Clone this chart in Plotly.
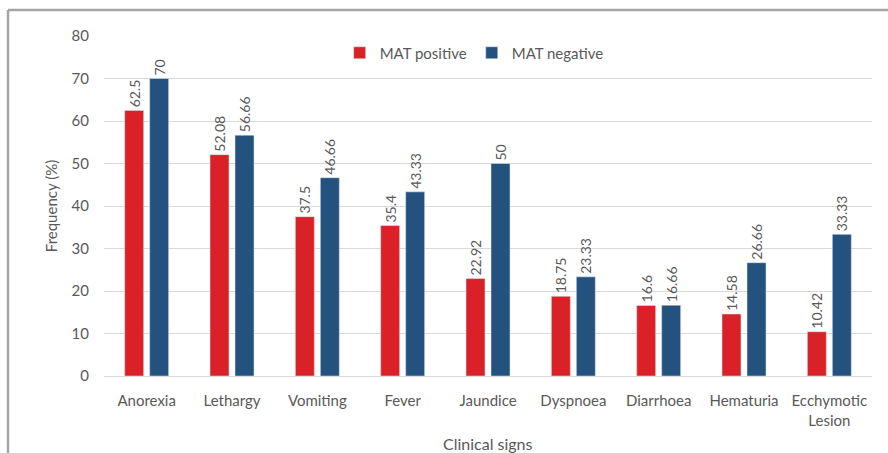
import plotly.graph_objects as go

# Clinical signs and frequency (%) by MAT result
signs = ["Anorexia", "Lethargy", "Vomiting", "Fever", "Jaundice",
         "Dyspnoea", "Diarrhoea", "Hematuria", "Ecchymotic<br>Lesion"]
mat_positive = [62.5, 52.08, 37.5, 35.4, 22.92, 18.75, 16.6, 14.58, 10.42]
mat_negative = [70, 56.66, 46.66, 43.33, 50, 23.33, 16.66, 26.66, 33.33]
y_ticks = [0, 10, 20, 30, 40, 50, 60, 70, 80]

RED = "#DA2128"
BLUE = "#24527F"
GREY_TEXT = "#595959"
FONT = "Lato"

label_font = dict(family=FONT, size=14, color=GREY_TEXT)

fig = go.Figure()
fig.add_trace(go.Bar(
    name="MAT positive", x=signs, y=mat_positive, marker_color=RED,
    text=[str(v) for v in mat_positive], textposition="outside", textangle=-90,
    textfont=label_font, constraintext="none", cliponaxis=False,
))
fig.add_trace(go.Bar(
    name="MAT negative", x=signs, y=mat_negative, marker_color=BLUE,
    text=[str(v) for v in mat_negative], textposition="outside", textangle=-90,
    textfont=label_font, constraintext="none", cliponaxis=False,
))

W, H = 888, 453
L, R, T, B = 104, 16, 36, 77
pw, ph = W - L - R, H - T - B

fig.update_layout(
    width=W, height=H,
    margin=dict(l=L, r=R, t=T, b=B, autoexpand=False),
    paper_bgcolor="white", plot_bgcolor="white",
    font=dict(family=FONT, size=15, color=GREY_TEXT),
    barmode="group", bargap=0.414, bargroupgap=0.24,
    legend=dict(orientation="h", x=0.482, xanchor="center", y=1 - (53 - T) / ph,
                yanchor="middle", bgcolor="rgba(255,255,255,0)",
                font=dict(family=FONT, size=15, color=GREY_TEXT),
                traceorder="normal"),
    xaxis=dict(
        showgrid=False, showline=False, ticks="", tickfont=dict(size=15),
        ticklabelstandoff=14, automargin=False,
    ),
    yaxis=dict(
        range=[0, 80], tickvals=y_ticks, showgrid=True, gridcolor="#D9D9D9",
        gridwidth=1, zeroline=True, zerolinecolor="#D9D9D9", zerolinewidth=1,
        ticks="", tickfont=dict(size=15), ticklabelstandoff=14, automargin=False,
        title=dict(text="Frequency (%)", font=dict(size=15), standoff=10),
    ),
    annotations=[
        dict(text="Clinical signs", xref="paper", yref="paper",
             x=0.5, y=-(443 - T - ph) / ph, xanchor="center", yanchor="middle",
             showarrow=False, font=dict(family=FONT, size=16, color=GREY_TEXT)),
    ],
    shapes=[
        # frame around the figure (top and left edges)
        dict(type="line", xref="paper", yref="paper",
             x0=(8 - L) / pw, x1=(W - L) / pw,
             y0=1 + (T - 10) / ph, y1=1 + (T - 10) / ph,
             line=dict(color="#A6A6A6", width=2.5)),
        dict(type="line", xref="paper", yref="paper",
             x0=(8 - L) / pw, x1=(8 - L) / pw,
             y0=1 + (T - 10) / ph, y1=-(H - T - ph) / ph - 0.05,
             line=dict(color="#A6A6A6", width=2.5)),
    ],
)

fig.write_html("out.html")
